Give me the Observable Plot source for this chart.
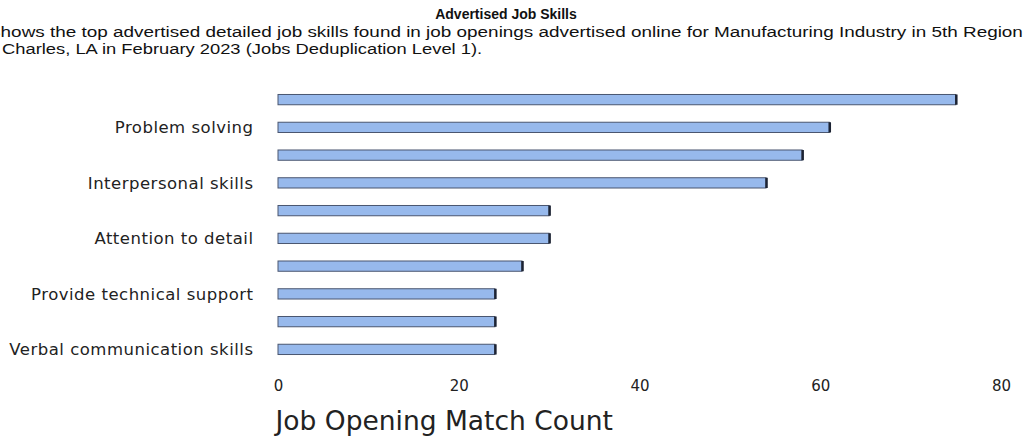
<!DOCTYPE html>
<html>
<head>
<meta charset="utf-8">
<script src="https://cdn.jsdelivr.net/npm/d3@7"></script>
<script src="https://cdn.jsdelivr.net/npm/@observablehq/plot@0.6"></script>
<style>
  html, body { margin: 0; padding: 0; background: #fff; width: 1024px; height: 444px; overflow: hidden; position: relative; }
  #title { position: absolute; top: 6px; left: 0; width: 1012px; text-align: center; font: bold 14px "Liberation Sans", Arial, sans-serif; color: #111; }
  .sub { position: absolute; white-space: nowrap; font: 14px "Liberation Sans", Arial, sans-serif; color: #111; transform-origin: 0 0; }
  #chart { position: absolute; top: 60px; left: 0; }
  #chart g[aria-label="y-axis tick label"] text { letter-spacing: 0.5px; }
</style>
</head>
<body>
<div id="title">Advertised Job Skills</div>
<div class="sub" id="sub1" style="top:24px;left:-12px;transform:scaleX(1.35)">Shows the top advertised detailed job skills found in job openings advertised online for Manufacturing Industry in 5th Region</div>
<div class="sub" id="sub2" style="top:41px;left:2px;transform:scaleX(1.31)">Charles, LA in February 2023 (Jobs Deduplication Level 1).</div>
<div id="chart"></div>
<script>
const skills = [
  "Communication skills",
  "Problem solving",
  "Detail oriented",
  "Interpersonal skills",
  "Customer service",
  "Attention to detail",
  "Work independently",
  "Provide technical support",
  "Written communication skills",
  "Verbal communication skills"
];
const counts = [75, 61, 58, 54, 30, 30, 27, 24, 24, 24];
const shownLabels = ["Problem solving", "Interpersonal skills", "Attention to detail", "Provide technical support", "Verbal communication skills"];
const xTicks = [0, 20, 40, 60, 80];
const xTitle = "Job Opening Match Count";

const data = skills.map((s, i) => ({skill: s, count: counts[i]}));

const chart = Plot.plot({
  width: 1024,
  height: 384,
  marginLeft: 278,
  marginRight: 23,
  marginTop: 17,
  marginBottom: 72,
  style: {fontFamily: "'DejaVu Sans', sans-serif", color: "#222", background: "#fff"},
  x: {domain: [0, 80]},
  y: {domain: skills, padding: 0.63, round: false},
  marks: [
    Plot.barX(data, {x: "count", y: "skill", fill: "#97b9ec", stroke: "#4a5670", strokeWidth: 1}),
    Plot.tickX(data, {x: "count", y: "skill", stroke: "#1c2333", strokeWidth: 2.5}),
    Plot.axisY({tickSize: 0, tickPadding: 25, fontSize: 16.5, label: null,
      tickFormat: d => shownLabels.includes(d) ? d : ""}),
    Plot.axisX({ticks: xTicks, tickSize: 0, tickPadding: 8, fontSize: 15, label: null}),
    Plot.text([xTitle], {frameAnchor: "bottom-left", textAnchor: "start", dx: -3, dy: 57, fontSize: 26.5, fill: "#222"})
  ]
});
document.getElementById("chart").appendChild(chart);
</script>
</body>
</html>
